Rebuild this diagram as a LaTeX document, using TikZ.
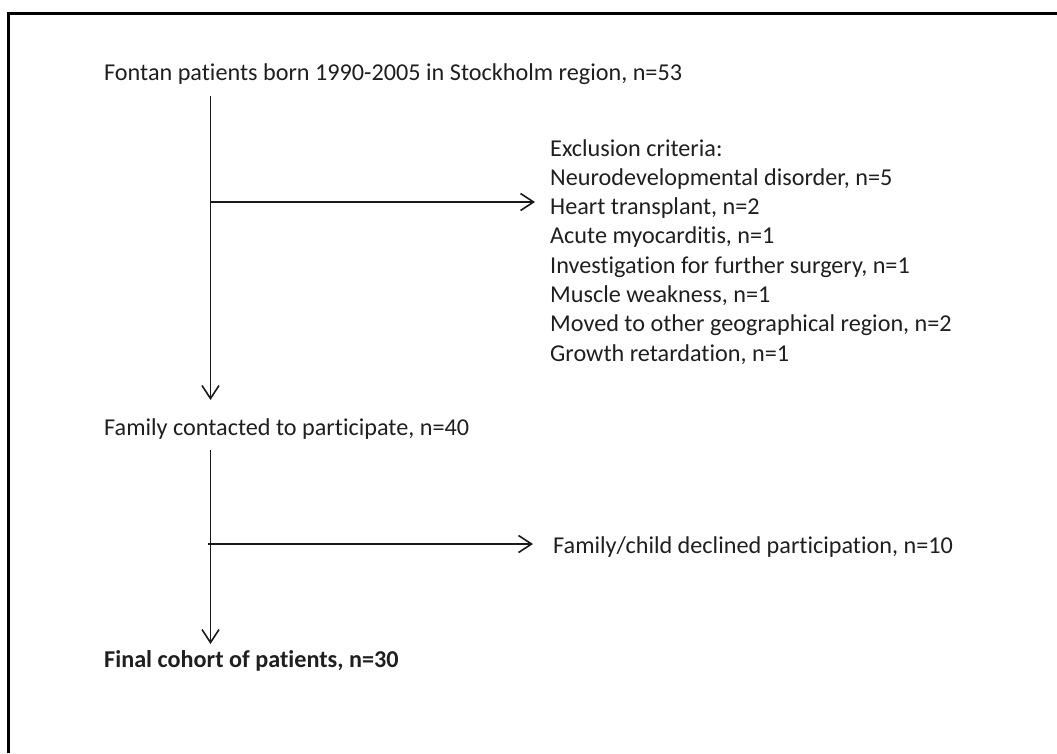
\documentclass[tikz,border=0pt]{standalone}
\usepackage{fontspec}
\setmainfont{Carlito}[Ligatures=NoCommon]
\usetikzlibrary{arrows.meta}
\begin{document}
\begin{tikzpicture}[x=1pt,y=-1pt,
  lbl/.style={anchor=base west, inner sep=0pt, font=\fontsize{24.2}{29}\selectfont, text=black!88},
  exlbl/.style={lbl},
  arr/.style={line width=1.6pt, black!90, -{Straight Barb[length=13pt,width=17pt,line width=1.6pt]}},
  frame/.style={line width=2.6pt, black}]
\useasboundingbox (0,0) rectangle (1057,753);
\draw[frame] (8.5,753) -- (8.5,13.5) -- (1057,13.5);

\node[lbl] (fontan) at (104,80) {Fontan patients born 1990-2005 in Stockholm region, n=53};
\node[exlbl] (ex1) at (550,156) {Exclusion criteria:};
\node[exlbl] (ex2) at (550,185.3) {Neurodevelopmental disorder, n=5};
\node[exlbl] (ex3) at (550,214.6) {Heart transplant, n=2};
\node[exlbl] (ex4) at (550,243.9) {Acute myocarditis, n=1};
\node[exlbl] (ex5) at (550,273.2) {Investigation for further surgery, n=1};
\node[exlbl] (ex6) at (550,302.5) {Muscle weakness, n=1};
\node[exlbl] (ex7) at (550,331.8) {Moved to other geographical region, n=2};
\node[exlbl] (ex8) at (550,361.1) {Growth retardation, n=1};
\node[lbl] (family) at (104,435) {Family contacted to participate, n=40};
\node[lbl] (declined) at (553,553) {Family/child declined participation, n=10};
\node[lbl, font=\fontsize{24.2}{29}\selectfont\bfseries] (final) at (104,667) {Final cohort of patients, n=30};

\coordinate (v1top) at (210.5,96);
\coordinate (v1tip) at (210.5,400);
\coordinate (b1) at (210.5,202);
\coordinate (b1tip) at (535,202);
\coordinate (v2top) at (210.5,450);
\coordinate (v2tip) at (210.5,644);
\coordinate (b2) at (208,544);
\coordinate (b2tip) at (533,544);

\draw[arr] (v1top) -- (v1tip);
\draw[arr] (b1) -- (b1tip);
\draw[arr] (v2top) -- (v2tip);
\draw[arr] (b2) -- (b2tip);
\end{tikzpicture}
\end{document}
